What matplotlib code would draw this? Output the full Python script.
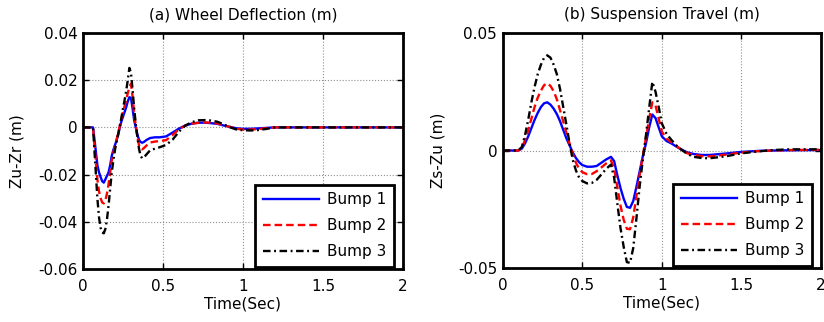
import numpy as np
import matplotlib
matplotlib.use("Agg")
from matplotlib import pyplot as plt

plt.rcParams['font.family'] = ['DejaVu Sans']

# (a) wheel deflection, Zu-Zr (m)
t_a = [0, 0.0625, 0.07, 0.08, 0.09, 0.10, 0.11, 0.12, 0.13, 0.14, 0.15, 0.16, 0.17, 0.18,
       0.19, 0.20, 0.21, 0.22, 0.23, 0.24, 0.25, 0.26, 0.27, 0.28, 0.29, 0.30, 0.31, 0.32,
       0.33, 0.34, 0.35, 0.36, 0.37, 0.38, 0.40, 0.42, 0.45, 0.48, 0.52, 0.56, 0.60, 0.64,
       0.68, 0.72, 0.76, 0.80, 0.84, 0.88, 0.92, 0.96, 1.0, 1.05, 1.1, 1.15, 1.2, 2.0]
bump1_a = [0, 0, -0.004, -0.010, -0.016, -0.019, -0.021, -0.0228, -0.0234, -0.022, -0.0205,
           -0.019, -0.016, -0.012, -0.0095, -0.0075, -0.0055, -0.003, 0.0, 0.0025, 0.0045,
           0.0065, 0.0085, 0.011, 0.0128, 0.0125, 0.008, 0.003, 0.0, -0.003, -0.0052,
           -0.0062, -0.0065, -0.0062, -0.0052, -0.0045, -0.0042, -0.0042, -0.0038, -0.0022,
           -0.0005, 0.0008, 0.0016, 0.002, 0.002, 0.0018, 0.0015, 0.0008, 0.0002, -0.0004,
           -0.0006, -0.0006, -0.0004, -0.0002, 0, 0]
bump2_a = [0, 0, -0.006, -0.014, -0.022, -0.027, -0.030, -0.0318, -0.0322, -0.031, -0.028,
           -0.024, -0.019, -0.014, -0.0105, -0.0078, -0.0052, -0.0025, 0.0005, 0.0035, 0.0065,
           0.009, 0.0115, 0.0145, 0.017, 0.0185, 0.013, 0.006, 0.0005, -0.004, -0.0075,
           -0.009, -0.0093, -0.0088, -0.0075, -0.0064, -0.006, -0.0058, -0.0054, -0.0032,
           -0.0008, 0.0008, 0.0016, 0.0019, 0.0021, 0.002, 0.0017, 0.0009, 0.0002, -0.0006,
           -0.0009, -0.0009, -0.0007, -0.0003, 0, 0]
bump3_a = [0, 0, -0.008, -0.019, -0.030, -0.038, -0.0425, -0.0445, -0.0449, -0.043, -0.039,
           -0.033, -0.026, -0.019, -0.014, -0.0095, -0.0062, -0.003, 0.0005, 0.004, 0.008,
           0.0115, 0.0155, 0.02, 0.0252, 0.0232, 0.016, 0.008, 0.0015, -0.004, -0.009,
           -0.012, -0.0131, -0.0128, -0.0112, -0.0097, -0.009, -0.0084, -0.0074, -0.0052,
           -0.0018, 0.0008, 0.0022, 0.003, 0.0031, 0.0029, 0.0024, 0.0013, 0.0, -0.0009,
           -0.0012, -0.0013, -0.0011, -0.0006, 0, 0]

# (b) suspension travel, Zs-Zu (m)
t_b = [0, 0.098, 0.12, 0.14, 0.16, 0.18, 0.20, 0.22, 0.24, 0.26, 0.28, 0.30, 0.32, 0.34,
       0.36, 0.38, 0.40, 0.42, 0.44, 0.46, 0.48, 0.50, 0.53, 0.56, 0.59, 0.62, 0.65, 0.68,
       0.70, 0.72, 0.74, 0.76, 0.78, 0.80, 0.82, 0.84, 0.86, 0.88, 0.90, 0.92, 0.94, 0.96,
       0.98, 1.00, 1.03, 1.06, 1.09, 1.12, 1.16, 1.2, 1.25, 1.3, 1.4, 1.5, 1.6, 1.7, 1.8, 2.0]
bump1_b = [0, 0, 0.0008, 0.003, 0.006, 0.0095, 0.013, 0.016, 0.0185, 0.0201, 0.0205,
           0.0195, 0.0178, 0.0155, 0.0125, 0.0088, 0.0052, 0.0022, -0.0008, -0.0032, -0.005,
           -0.0062, -0.0069, -0.0069, -0.0066, -0.0052, -0.0038, -0.0027, -0.0045, -0.0105,
           -0.016, -0.0205, -0.024, -0.0244, -0.0215, -0.0155, -0.009, -0.0025, 0.003, 0.0098,
           0.0153, 0.0138, 0.0098, 0.006, 0.004, 0.003, 0.0017, 0.0005, -0.0008, -0.0015,
           -0.0019, -0.0019, -0.0013, -0.0006, -0.0002, 0, 0.0001, 0.0002]
bump2_b = [0, 0, 0.001, 0.0045, 0.0085, 0.0135, 0.0185, 0.0225, 0.0255, 0.0278, 0.0286,
           0.0275, 0.0252, 0.0218, 0.0172, 0.0124, 0.0075, 0.003, -0.0015, -0.0052, -0.0078,
           -0.0092, -0.0101, -0.0100, -0.0088, -0.0072, -0.0055, -0.0042, -0.0075, -0.0155,
           -0.0235, -0.0295, -0.0333, -0.0335, -0.0285, -0.0195, -0.0105, -0.0025, 0.0055, 0.0135,
           0.0205, 0.0192, 0.0135, 0.008, 0.005, 0.0035, 0.002, 0.0005, -0.0012, -0.0019,
           -0.0024, -0.0025, -0.0018, -0.0009, -0.0003, 0, 0.0002, 0.0003]
bump3_b = [0, 0, 0.0015, 0.0065, 0.013, 0.0205, 0.027, 0.0325, 0.0365, 0.0395, 0.0405,
           0.0395, 0.0365, 0.0325, 0.0262, 0.0186, 0.011, 0.003, -0.004, -0.0085, -0.0115,
           -0.013, -0.014, -0.0138, -0.0125, -0.0102, -0.0078, -0.006, -0.0115, -0.0225,
           -0.033, -0.041, -0.0475, -0.0478, -0.0415, -0.029, -0.0155, -0.004, 0.0065, 0.018,
           0.0292, 0.025, 0.0185, 0.0115, 0.007, 0.0045, 0.0022, 0.0005, -0.0015, -0.0027,
           -0.0032, -0.0033, -0.0025, -0.0012, -0.0004, 0.0002, 0.0005, 0.0005]

x_ticks = [0, 0.5, 1, 1.5, 2]
x_tick_labels = ['0', '0.5', '1', '1.5', '2']
ya_ticks = [-0.06, -0.04, -0.02, 0, 0.02, 0.04]
ya_labels = ['-0.06', '-0.04', '-0.02', '0', '0.02', '0.04']
yb_ticks = [-0.05, 0, 0.05]
yb_labels = ['-0.05', '0', '0.05']
labels = ['Bump 1', 'Bump 2', 'Bump 3']

fig = plt.figure(figsize=(8.24, 3.22), dpi=100)
ax1 = fig.add_axes([0.1007, 0.1646, 0.3883, 0.7329])
ax2 = fig.add_axes([0.6101, 0.1677, 0.3863, 0.7298])


def draw(ax, t, ys):
    ax.plot(t, ys[0], color='#0000ff', lw=1.7, ls='-')
    ax.plot(t, ys[1], color='#ff0000', lw=1.7, ls=(0, (3.2, 1.7)))
    ax.plot(t, ys[2], color='black', lw=1.7, ls=(0, (3.2, 1.5, 0.8, 1.5)))


def style(ax, title, ylabel, yticks, ylabels, ylpad):
    ax.set_xlim(0, 2)
    ax.set_ylim(yticks[0], yticks[-1])
    ax.set_xticks(x_ticks)
    ax.set_xticklabels(x_tick_labels)
    ax.set_yticks(yticks)
    ax.set_yticklabels(ylabels)
    ax.tick_params(direction='in', top=True, right=True, length=4, width=1,
                   labelsize=11, pad=4)
    ax.tick_params(axis='x', pad=7)
    ax.grid(True, linestyle=':', color='#909090', linewidth=0.8)
    for s in ax.spines.values():
        s.set_linewidth(2)
    ax.set_title(title, fontsize=11, pad=10)
    ax.set_ylabel(ylabel, fontsize=11, labelpad=ylpad)
    ax.set_xlabel('Time(Sec)', fontsize=11, labelpad=2)
    leg = ax.legend(labels, loc='lower right', bbox_to_anchor=(0.972, 0.0085),
                    borderaxespad=0, fancybox=False, framealpha=1, edgecolor='black',
                    fontsize=11, handlelength=3.7, handletextpad=0.5,
                    labelspacing=0.72, borderpad=0.5)
    leg.get_frame().set_linewidth(2)


draw(ax1, t_a, [bump1_a, bump2_a, bump3_a])
style(ax1, '(a) Wheel Deflection (m)', 'Zu-Zr (m)', ya_ticks, ya_labels, 10)

draw(ax2, t_b, [bump1_b, bump2_b, bump3_b])
style(ax2, '(b) Suspension Travel (m)', 'Zs-Zu (m)', yb_ticks, yb_labels, 9)

fig.savefig('out.png', dpi=100)
